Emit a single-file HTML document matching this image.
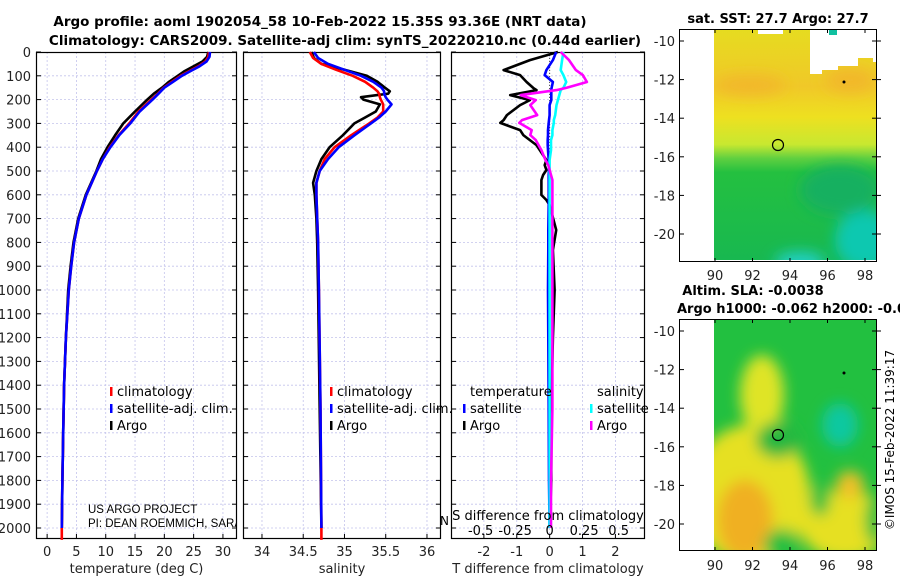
<!DOCTYPE html>
<html><head><meta charset="utf-8">
<style>
html,body{margin:0;padding:0;background:#fff;}
svg{display:block;font-family:"DejaVu Sans","Liberation Sans",sans-serif;}
</style></head>
<body>
<svg id="fig" width="900" height="580" viewBox="0 0 900 580" xmlns="http://www.w3.org/2000/svg">
<defs>
<filter id="blur" x="-50%" y="-50%" width="200%" height="200%"><feGaussianBlur stdDeviation="7"/></filter>
<clipPath id="clipTop"><rect x="714" y="29" width="163" height="231"/></clipPath>
<clipPath id="clipBot"><rect x="714" y="319" width="163" height="232"/></clipPath>
<clipPath id="clipP1"><rect x="36" y="52" width="201" height="487"/></clipPath>
<linearGradient id="sstGrad" x1="0" y1="0" x2="0" y2="1">
<stop offset="0" stop-color="#e6dc20"/><stop offset="0.25" stop-color="#f0c828"/>
<stop offset="0.38" stop-color="#eee020"/><stop offset="0.5" stop-color="#c8e830"/>
<stop offset="0.56" stop-color="#60d040"/><stop offset="0.62" stop-color="#24c040"/>
<stop offset="1" stop-color="#18b850"/></linearGradient>
</defs>
<text x="320" y="26" text-anchor="middle" font-size="13.5" font-weight="bold">Argo profile: aoml 1902054_58 10-Feb-2022 15.35S 93.36E (NRT data)</text>
<text x="345" y="45" text-anchor="middle" font-size="13.5" font-weight="bold">Climatology: CARS2009. Satellite-adj clim: synTS_20220210.nc (0.44d earlier)</text>
<g id="panels"></g>
<g>
<text x="778" y="23" text-anchor="middle" font-size="13" font-weight="bold">sat. SST: 27.7 Argo: 27.7</text>
<g clip-path="url(#clipTop)">
<rect x="714" y="29" width="163" height="231" fill="url(#sstGrad)"/>
<g filter="url(#blur)">
<ellipse cx="750" cy="85" rx="35" ry="10" fill="#f2b82a"/>
<ellipse cx="850" cy="80" rx="25" ry="12" fill="#f2b82a"/>
<ellipse cx="865" cy="240" rx="30" ry="30" fill="#10c8b0"/>
<ellipse cx="800" cy="262" rx="25" ry="10" fill="#20d0c8"/>
<ellipse cx="840" cy="190" rx="40" ry="25" fill="#18b060"/>
</g>
<polygon points="810,29 877,29 877,62 873,62 873,58 858,58 858,66 838,66 838,70 822,70 822,74 810,74" fill="#fff"/>
<rect x="758" y="29" width="25" height="5" fill="#fff"/>
<rect x="829" y="29" width="8" height="6" fill="#10c0a0"/>
</g>
<rect x="679.5" y="29.5" width="197" height="232" fill="none" stroke="#000" stroke-width="1"/>
<circle cx="778" cy="145" r="5.5" fill="none" stroke="#000" stroke-width="1.2"/>
<circle cx="844" cy="82" r="1.5" fill="#000"/>
<g id="mapTopAxes"></g>
</g>
<g>
<text x="753" y="295" text-anchor="middle" font-size="13" font-weight="bold">Altim. SLA: -0.0038</text>
<text x="677" y="313" font-size="13" font-weight="bold">Argo h1000: -0.062 h2000: -0.067</text>
<g clip-path="url(#clipBot)">
<rect x="714" y="319" width="163" height="232" fill="#22c040"/>
<g filter="url(#blur)">
<ellipse cx="750" cy="495" rx="60" ry="70" fill="#e6e020"/>
<ellipse cx="762" cy="395" rx="22" ry="40" fill="#dfe428"/>
<ellipse cx="745" cy="520" rx="28" ry="40" fill="#f0b020"/>
<ellipse cx="845" cy="525" rx="45" ry="35" fill="#e6e020"/>
<ellipse cx="850" cy="485" rx="14" ry="14" fill="#f0c028"/>
<ellipse cx="778" cy="440" rx="22" ry="18" fill="#28b840"/>
<ellipse cx="840" cy="425" rx="18" ry="22" fill="#10c8a0"/>
<ellipse cx="782" cy="545" rx="18" ry="16" fill="#28c040"/>
<ellipse cx="820" cy="500" rx="10" ry="16" fill="#30c040"/>
<ellipse cx="875" cy="520" rx="10" ry="25" fill="#28c040"/>
</g>
</g>
<rect x="679.5" y="319.5" width="197" height="231" fill="none" stroke="#000" stroke-width="1"/>
<circle cx="778" cy="435" r="5.5" fill="none" stroke="#000" stroke-width="1.2"/>
<circle cx="844" cy="373" r="1.5" fill="#000"/>
<g id="mapBotAxes"></g>
</g>
<text transform="translate(894,440) rotate(-90)" text-anchor="middle" font-size="12">©IMOS 15-Feb-2022 11:39:17</text>
</svg>
<script>
const tDepth = [0,20,40,60,80,100,125,150,175,200,250,300,350,400,450,500,600,700,800,900,1000,1200,1400,1600,1800,2000];
const tArgo = [27.5,27.3,26.5,25,23.5,22.3,20.8,19.6,18.2,17.1,15,13,11.6,10.3,9.2,8.4,6.6,5.3,4.5,4.0,3.6,3.2,2.9,2.75,2.6,2.5];
const tSat = [27.8,27.7,27.2,26,24.5,23,21.5,20,19,18,15.8,14.2,12.3,10.8,9.5,8.5,6.7,5.4,4.6,4.1,3.7,3.2,2.9,2.75,2.6,2.5];
const tClimDepth = [0,20,40,60,80,100,125,150,175,200,250,300,350,400,450,500,600,700,800,900,1000,1200,1400,1600,1800,2000,2050];
const tClim = [27.6,27.5,27,25.8,24.3,22.8,21.3,19.9,18.9,17.8,15.6,14,12.2,10.7,9.5,8.5,6.7,5.4,4.6,4.1,3.7,3.2,2.9,2.75,2.6,2.5,2.5];
const sDepth = [0,25,50,75,100,125,150,165,175,190,200,220,250,275,300,350,400,450,500,550,600,700,800,1000,1500,2000];
const sArgo = [34.60,34.63,34.72,35.0,35.27,35.40,35.49,35.55,35.53,35.2,35.23,35.43,35.38,35.25,35.12,34.98,34.82,34.72,34.66,34.62,34.64,34.66,34.67,34.68,34.70,34.72];
const sSat = [34.63,34.68,34.8,35.0,35.2,35.35,35.45,35.48,35.48,35.5,35.52,35.57,35.5,35.42,35.32,35.12,34.93,34.8,34.70,34.66,34.66,34.67,34.68,34.69,34.71,34.72];
const sClimDepth = [0,25,50,75,100,125,150,165,175,190,200,220,250,275,300,350,400,450,500,550,600,700,800,1000,1500,2000,2050];
const sClim = [34.58,34.62,34.72,34.9,35.1,35.25,35.35,35.4,35.42,35.43,35.44,35.47,35.47,35.4,35.3,35.08,34.88,34.76,34.70,34.66,34.66,34.67,34.68,34.69,34.71,34.72,34.72];
const dDepth = [0,34,76,97,126,151,160,181,202,223,265,286,298,328,349,370,391,412,454,475,496,517,538,601,622,643,748,832,1000,1200,1500,1800,2000];
const dTArgo = [0.25,-0.6,-1.4,-0.9,-0.7,-0.5,-0.4,-1.2,-0.6,-0.9,-1.3,-1.4,-1.5,-0.9,-0.8,-0.6,-0.4,-0.3,-0.1,-0.15,-0.1,-0.2,-0.25,-0.25,-0.1,0.0,0.2,0.1,0.15,0.1,0.05,0.05,0.0];
const dTSat = [0.2,0.1,-0.1,-0.15,0.1,0.06,0.05,0.05,0.05,0.0,0.0,-0.02,-0.03,-0.05,-0.05,-0.06,-0.06,-0.05,-0.03,-0.02,-0.02,-0.03,-0.03,-0.03,-0.03,-0.03,-0.04,-0.04,-0.05,-0.04,-0.03,-0.02,0];
const dSArgo = [0.08,0.14,0.19,0.24,0.27,0.12,0.05,-0.21,-0.1,-0.14,-0.09,-0.2,-0.22,-0.13,-0.14,-0.1,-0.08,-0.06,-0.03,-0.01,0.0,0.01,0.02,0.02,0.02,0.02,0.02,0.02,0.02,0.02,0.02,0.01,0.01];
const dSSat = [0.1,0.09,0.08,0.1,0.12,0.1,0.08,0.07,0.06,0.05,0.04,0.03,0.03,0.02,0.02,0.01,0.01,0.01,0,0,0,0,0,0,0,0,0,0,0,0,0,0,0];
const depthTicks = [0,100,200,300,400,500,600,700,800,900,1000,1100,1200,1300,1400,1500,1600,1700,1800,1900,2000];
const tTicks = [0,5,10,15,20,25,30];
const sTicks = [34,34.5,35,35.5,36];
const tdTicks = [-2,-1,0,1,2];
const sdTicks = [-0.5,-0.25,0,0.25,0.5];
const sdTickLabels = ["-0.5","-0.25","0","0.25","0.5"];
const lonTicks = [90,92,94,96,98];
const latTicks = [-10,-12,-14,-16,-18,-20];

const NS = "http://www.w3.org/2000/svg";
function mk(tag, attrs, parent){const e=document.createElementNS(NS,tag);for(const k in attrs)e.setAttribute(k,attrs[k]);parent.appendChild(e);return e;}
const Y0=52, YB=539;
const yD = d => Y0 + d*0.238;
const panelsG = document.getElementById('panels');

const panels = [
 {x0:36,x1:237,vmin:-1.9,vmax:32.4,ticks:tTicks,labels:tTicks.map(String),title:"temperature (deg C)",name:"temperature-panel"},
 {x0:243,x1:441,vmin:33.77,vmax:36.17,ticks:sTicks,labels:sTicks.map(String),title:"salinity",name:"salinity-panel"},
 {x0:451,x1:645,vmin:-3.0,vmax:2.9,ticks:tdTicks,labels:tdTicks.map(String),title:"T difference from climatology",name:"difference-panel"}
];
panels.forEach((p,i)=>{
  const g = mk('g',{},panelsG);
  
  
  p.x = v => p.x0 + (v-p.vmin)/(p.vmax-p.vmin)*(p.x1-p.x0);
  depthTicks.forEach(d=>{ if(d>0) mk('line',{x1:p.x0,x2:p.x1,y1:yD(d),y2:yD(d),stroke:"#c4c4ec","stroke-width":0.8,"stroke-dasharray":"2,2"},g);});
  p.ticks.forEach(t=>{ mk('line',{x1:p.x(t),x2:p.x(t),y1:Y0,y2:YB,stroke:"#c4c4ec","stroke-width":0.8,"stroke-dasharray":"2,2"},g);});
  depthTicks.forEach(d=>{ mk('line',{x1:p.x0,x2:p.x0+5,y1:yD(d),y2:yD(d),stroke:"#000"},g); mk('line',{x1:p.x1-5,x2:p.x1,y1:yD(d),y2:yD(d),stroke:"#000"},g);});
  p.ticks.forEach((t,j)=>{
    mk('line',{x1:p.x(t),x2:p.x(t),y1:YB-5,y2:YB,stroke:"#000"},g);
    const lb = mk('text',{x:p.x(t),y:556,"text-anchor":"middle","font-size":13,fill:"#222"},g);
    lb.textContent = p.labels[j];
    
    
  });
  const xt = mk('text',{x:(p.x0+p.x1)/2,y:573,"text-anchor":"middle","font-size":13,fill:"#222"},g);
  xt.textContent = p.title;
  
  
  mk('rect',{x:p.x0+0.5,y:Y0+0.5,width:p.x1-p.x0-1,height:YB-Y0-1,fill:"none",stroke:"#000","stroke-width":1.2},g);
  p.g = g;
});
depthTicks.forEach(d=>{
  const t = mk('text',{x:31,y:yD(d)+5,"text-anchor":"end","font-size":13,fill:"#222"},panelsG);
  t.textContent = String(d);
  
  
});
function line(p, vals, depths, color, name, xf){
  const pts = vals.map((v,i)=>(xf?xf(v):p.x(v)).toFixed(1)+","+yD(depths[i]).toFixed(1)).join(" ");
  const l = mk('polyline',{points:pts,fill:"none",stroke:color,"stroke-width":2.6,"stroke-linejoin":"round"},p.g);
  
  
}
const [P1,P2,P3] = panels;
line(P1,tArgo,tDepth,"#000","temperature-argo-line");
line(P1,tClim,tClimDepth,"#ff0000","temperature-climatology-line");
line(P1,tSat,tDepth,"#0000ff","temperature-satellite-line");
line(P2,sArgo,sDepth,"#000","salinity-argo-line");
line(P2,sClim,sClimDepth,"#ff0000","salinity-climatology-line");
line(P2,sSat,sDepth,"#0000ff","salinity-satellite-line");
const sdX = v => P3.x(0) + v*138;
mk('line',{x1:P3.x(0),x2:P3.x(0),y1:Y0,y2:yD(2000),stroke:"#444","stroke-width":1,"stroke-dasharray":"1,2"},P3.g);
line(P3,dTArgo,dDepth,"#000","t-diff-argo-line");
line(P3,dTSat,dDepth,"#0000ff","t-diff-satellite-line");
line(P3,dSSat,dDepth,"#00ffff","s-diff-satellite-line",sdX);
line(P3,dSArgo,dDepth,"#ff00ff","s-diff-argo-line",sdX);
sdTicks.forEach((t,j)=>{
  const lb = mk('text',{x:sdX(t),y:535,"text-anchor":"middle","font-size":13,fill:"#000"},P3.g);
  lb.textContent = sdTickLabels[j];
  
  
});
const sdt = mk('text',{x:548,y:520,"text-anchor":"middle","font-size":13,fill:"#000"},P3.g);
sdt.textContent = "S difference from climatology";


mk('text',{x:440,y:525,"font-size":12,fill:"#000"},panelsG).textContent="N";
const cg = mk('g',{"clip-path":"url(#clipP1)"},panelsG);


mk('text',{x:88,y:513,"font-size":11.5,fill:"#000","font-family":"Liberation Sans Narrow, Liberation Sans, sans-serif"},cg).textContent="US ARGO PROJECT";
mk('text',{x:88,y:527,"font-size":11.5,fill:"#000","font-family":"Liberation Sans Narrow, Liberation Sans, sans-serif"},cg).textContent="PI: DEAN ROEMMICH, SARAH GILLE";
function legend(x,y,color,label,name){
  const g = mk('g',{},panelsG);
  
  
  mk('rect',{x:x,y:y-9,width:2.5,height:9,fill:color},g);
  const t = mk('text',{x:x+7,y:y,"font-size":13,fill:"#000"},g);
  t.textContent = label;
}
legend(110,396,"#ff0000","climatology","legend-climatology");
legend(110,413,"#0000ff","satellite-adj. clim.","legend-satellite");
legend(110,430,"#000","Argo","legend-argo");
legend(330,396,"#ff0000","climatology","legend-climatology-salinity");
legend(330,413,"#0000ff","satellite-adj. clim.","legend-satellite-salinity");
legend(330,430,"#000","Argo","legend-argo-salinity");
const lt = mk('text',{x:470,y:396,"font-size":13},panelsG); lt.textContent="temperature";
const ls = mk('text',{x:597,y:396,"font-size":13},panelsG); ls.textContent="salinity";
legend(463,413,"#0000ff","satellite","legend-t-satellite");
legend(463,430,"#000","Argo","legend-t-argo");
legend(590,413,"#00ffff","satellite","legend-s-satellite");
legend(590,430,"#ff00ff","Argo","legend-s-argo");
function mapAxes(id, top, bottom, latY10, lonLabelY){
  const g = document.getElementById(id);
  const lx = lon => 715 + (lon-90)*18.75;
  const ly = lat => latY10 + (-10-lat)*19.3;
  lonTicks.forEach(l=>{
    mk('line',{x1:lx(l),x2:lx(l),y1:bottom-4,y2:bottom,stroke:"#000"},g);
    mk('line',{x1:lx(l),x2:lx(l),y1:top,y2:top+4,stroke:"#000"},g);
    const t = mk('text',{x:lx(l),y:lonLabelY,"text-anchor":"middle","font-size":13,fill:"#222"},g);
    t.textContent = String(l);
    
    
  });
  latTicks.forEach(l=>{
    mk('line',{x1:680,x2:684,y1:ly(l),y2:ly(l),stroke:"#000"},g);
    mk('line',{x1:872,x2:881,y1:ly(l),y2:ly(l),stroke:"#000"},g);
    const t = mk('text',{x:675,y:ly(l)+5,"text-anchor":"end","font-size":13,fill:"#222"},g);
    t.textContent = String(l);
    
    
  });
}
mapAxes('mapTopAxes',29,262,41,280);
mapAxes('mapBotAxes',319,551,331,570);
</script>
</body></html>
